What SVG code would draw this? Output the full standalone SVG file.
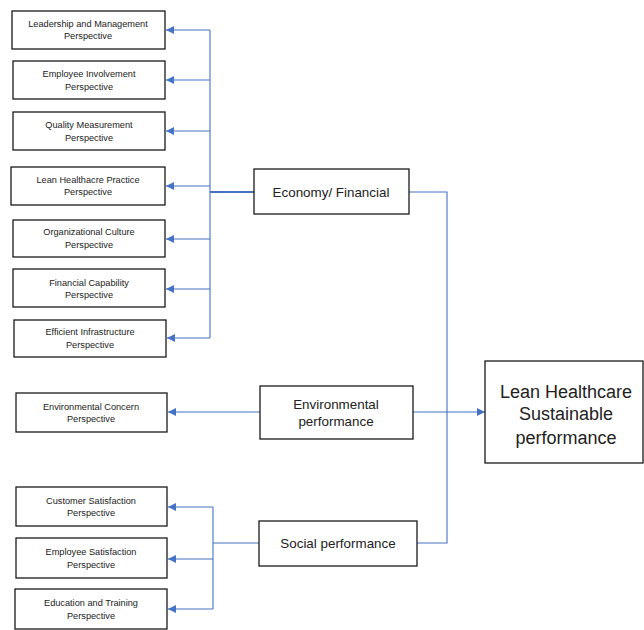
<svg xmlns="http://www.w3.org/2000/svg" width="644" height="630" viewBox="0 0 644 630">
<style>
.box{fill:#fff;stroke:#1a1a1a;stroke-width:1.3}
.s{font-family:"Liberation Sans",Arial,sans-serif;font-size:9.2px;fill:#222;text-anchor:middle}
.m{font-family:"Liberation Sans",Arial,sans-serif;font-size:13.4px;fill:#222;text-anchor:middle}
.l{font-family:"Liberation Sans",Arial,sans-serif;font-size:18px;fill:#222;text-anchor:middle}
.c{fill:none;stroke:#4472C4;stroke-width:1.1}
</style>
<defs>
<marker id="ah" markerUnits="userSpaceOnUse" markerWidth="9" markerHeight="8" refX="8" refY="4" orient="auto">
<path d="M0,0 L8,4 L0,8 z" fill="#4472C4"/>
</marker>
</defs>
<rect width="644" height="630" fill="#fff"/>
<g id="connectors">
<path class="c" d="M210,30 V338"/>
<path class="c" d="M210,30 H166" marker-end="url(#ah)"/>
<path class="c" d="M210,80 H166" marker-end="url(#ah)"/>
<path class="c" d="M210,131 H166" marker-end="url(#ah)"/>
<path class="c" d="M210,186 H166" marker-end="url(#ah)"/>
<path class="c" d="M210,239 H166" marker-end="url(#ah)"/>
<path class="c" d="M210,289 H166" marker-end="url(#ah)"/>
<path class="c" d="M210,338 H167" marker-end="url(#ah)"/>
<path class="c" d="M210,192 H254" style="stroke-width:1.8"/>
<path class="c" d="M409,192 H447 V543 H417"/>
<path class="c" d="M260,412 H168" marker-end="url(#ah)"/>
<path class="c" d="M413,412 H485" marker-end="url(#ah)"/>
<path class="c" d="M259,543 H213"/>
<path class="c" d="M213,507 V609"/>
<path class="c" d="M213,507 H168" marker-end="url(#ah)"/>
<path class="c" d="M213,559 H168" marker-end="url(#ah)"/>
<path class="c" d="M213,609 H168" marker-end="url(#ah)"/>
</g>
<g id="n1"><rect class="box" x="12" y="11" width="153" height="38"/><text class="s" x="88" y="27">Leadership and Management</text><text class="s" x="88" y="39">Perspective</text></g>
<g id="n2"><rect class="box" x="13" y="61" width="152" height="38"/><text class="s" x="89" y="77">Employee Involvement</text><text class="s" x="89" y="90">Perspective</text></g>
<g id="n3"><rect class="box" x="13" y="112" width="152" height="38"/><text class="s" x="89" y="128">Quality Measurement</text><text class="s" x="89" y="141">Perspective</text></g>
<g id="n4"><rect class="box" x="11" y="167" width="154" height="38"/><text class="s" x="88" y="183">Lean Healthacre Practice</text><text class="s" x="88" y="195">Perspective</text></g>
<g id="n5"><rect class="box" x="13" y="220" width="152" height="37"/><text class="s" x="89" y="235">Organizational Culture</text><text class="s" x="89" y="248">Perspective</text></g>
<g id="n6"><rect class="box" x="13" y="269" width="152" height="38"/><text class="s" x="89" y="286">Financial Capability</text><text class="s" x="89" y="298">Perspective</text></g>
<g id="n7"><rect class="box" x="14" y="320" width="152" height="37"/><text class="s" x="90" y="335">Efficient Infrastructure</text><text class="s" x="90" y="348">Perspective</text></g>
<g id="n8"><rect class="box" x="16" y="393" width="151" height="39"/><text class="s" x="91" y="410">Environmental Concern</text><text class="s" x="91" y="422">Perspective</text></g>
<g id="n9"><rect class="box" x="16" y="487" width="151" height="39"/><text class="s" x="91" y="504">Customer Satisfaction</text><text class="s" x="91" y="516">Perspective</text></g>
<g id="n10"><rect class="box" x="16" y="538" width="151" height="40"/><text class="s" x="91" y="555">Employee Satisfaction</text><text class="s" x="91" y="568">Perspective</text></g>
<g id="n11"><rect class="box" x="15" y="589" width="152" height="40"/><text class="s" x="91" y="606">Education and Training</text><text class="s" x="91" y="619">Perspective</text></g>
<g id="econ"><rect class="box" x="254" y="169" width="155" height="45"/><text class="m" x="331" y="197">Economy/ Financial</text></g>
<g id="env"><rect class="box" x="260" y="386" width="153" height="53"/><text class="m" x="336" y="409">Environmental</text><text class="m" x="336" y="426">performance</text></g>
<g id="social"><rect class="box" x="259" y="521" width="158" height="45"/><text class="m" x="338" y="548">Social performance</text></g>
<g id="lh"><rect class="box" x="485" y="361" width="158" height="102"/><text class="l" x="566" y="398">Lean Healthcare</text><text class="l" x="566" y="420">Sustainable</text><text class="l" x="566" y="444">performance</text></g>
</svg>
